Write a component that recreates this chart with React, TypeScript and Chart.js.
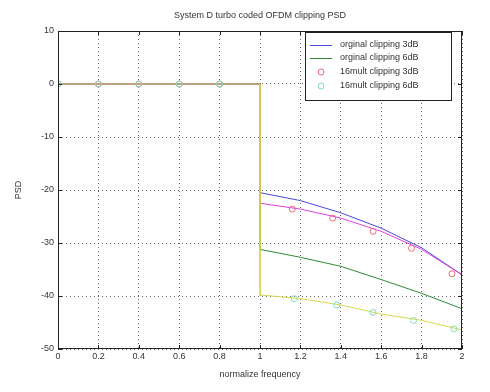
import React, { useEffect, useRef } from "react";
import { Chart, registerables } from "chart.js";
Chart.register(...registerables);

const FREQ = [0, 0.2, 0.4, 0.6, 0.8, 1, 1, 1.2, 1.4, 1.6, 1.8, 2];
const ORIG_3DB = [0, 0, 0, 0, 0, 0, -20.5, -22, -24.3, -27.2, -30.9, -36];
const ORIG_6DB = [0, 0, 0, 0, 0, 0, -31.2, -32.7, -34.4, -36.9, -39.5, -42.4];
const MULT_3DB = [0, 0, 0, 0, 0, 0, -22.5, -23.6, -25.3, -27.8, -31.2, -36];
const MULT_6DB = [0, 0, 0, 0, 0, 0, -39.8, -40.5, -41.7, -43.4, -44.6, -46.4];
const MK3_X = [0, 0.2, 0.4, 0.6, 0.8, 1.16, 1.36, 1.56, 1.75, 1.95];
const MK3_Y = [0, 0, 0, 0, 0, -23.6, -25.3, -27.8, -31, -35.8];
const MK6_X = [0, 0.2, 0.4, 0.6, 0.8, 1.17, 1.38, 1.56, 1.76, 1.96];
const MK6_Y = [0, 0, 0, 0, 0, -40.5, -41.7, -43.1, -44.6, -46.2];
const LEGEND = ["orginal clipping 3dB", "orginal clipping 6dB", "16mult clipping 3dB", "16mult clipping 6dB"];
const TITLE = "System D turbo coded OFDM clipping PSD";
const XLABEL = "normalize frequency";
const YLABEL = "PSD";

const C_BLUE = "#4a4ad8";
const C_GREEN = "#2f8a35";
const C_MAG = "#e040e0";
const C_RED = "#f06878";
const C_YEL = "#d6d84a";
const C_CYAN = "#7fdcc0";

const pts = (xs: number[], ys: number[]) => xs.map((x, i) => ({ x, y: ys[i] }));
const FONT = "'Liberation Sans', Arial, sans-serif";

export default function App() {
  const ref = useRef<HTMLCanvasElement>(null);
  useEffect(() => {
    const extras = {
      id: "extras",
      afterDraw(chart: any) {
        const ctx = chart.ctx;
        const a = chart.chartArea;
        const xs = chart.scales.x;
        const ys = chart.scales.y;
        ctx.save();
        ctx.strokeStyle = "#222";
        ctx.lineWidth = 1;
        ctx.strokeRect(a.left + 0.5, a.top + 0.5, a.right - a.left - 1, a.bottom - a.top - 1);
        for (let v = 0; v <= 2.0001; v += 0.2) {
          const px = Math.round(xs.getPixelForValue(v)) + 0.5;
          ctx.beginPath();
          ctx.moveTo(px, a.bottom); ctx.lineTo(px, a.bottom - 4);
          ctx.moveTo(px, a.top); ctx.lineTo(px, a.top + 4);
          ctx.stroke();
        }
        for (let v = -50; v <= 10; v += 10) {
          const py = Math.round(ys.getPixelForValue(v)) + 0.5;
          ctx.beginPath();
          ctx.moveTo(a.left, py); ctx.lineTo(a.left + 4, py);
          ctx.moveTo(a.right, py); ctx.lineTo(a.right - 4, py);
          ctx.stroke();
        }
        ctx.fillStyle = "#333";
        ctx.font = `9px ${FONT}`;
        ctx.textAlign = "center";
        ctx.textBaseline = "middle";
        ctx.fillText(TITLE, (a.left + a.right) / 2, 16);
        ctx.fillText(XLABEL, (a.left + a.right) / 2, 375);
        ctx.save();
        ctx.translate(19, (a.top + a.bottom) / 2);
        ctx.rotate(-Math.PI / 2);
        ctx.fillText(YLABEL, 0, 0);
        ctx.restore();
        const lx = 305, ly = 32, lw = 146, lh = 68;
        ctx.fillStyle = "#fff";
        ctx.fillRect(lx, ly, lw, lh);
        ctx.strokeStyle = "#222";
        ctx.strokeRect(lx + 0.5, ly + 0.5, lw, lh);
        const rows = [45, 58, 72, 86];
        ctx.textAlign = "left";
        LEGEND.forEach((t, i) => {
          const y = rows[i];
          if (i < 2) {
            ctx.strokeStyle = i === 0 ? C_BLUE : C_GREEN;
            ctx.beginPath();
            ctx.moveTo(310, y + 0.5); ctx.lineTo(332, y + 0.5);
            ctx.stroke();
          } else {
            ctx.strokeStyle = i === 2 ? C_RED : C_CYAN;
            ctx.beginPath();
            ctx.arc(321, y, 3, 0, Math.PI * 2);
            ctx.stroke();
          }
          ctx.fillStyle = "#333";
          ctx.fillText(t, 340, y);
        });
        ctx.restore();
      },
    };
    const chart = new Chart(ref.current!, {
      type: "line",
      data: {
        datasets: [
          { order: 6, data: pts(FREQ, ORIG_3DB), borderColor: C_BLUE, borderWidth: 1, pointRadius: 0, fill: false },
          { order: 5, data: pts(FREQ, ORIG_6DB), borderColor: C_GREEN, borderWidth: 1, pointRadius: 0, fill: false },
          { order: 4, data: pts(FREQ, MULT_3DB), borderColor: C_MAG, borderWidth: 1, pointRadius: 0, fill: false },
          { order: 3, data: pts(MK3_X, MK3_Y), showLine: false, pointStyle: "circle", pointRadius: 3, borderColor: C_RED, backgroundColor: "transparent", borderWidth: 1 },
          { order: 2, data: pts(FREQ, MULT_6DB), borderColor: C_YEL, borderWidth: 1, pointRadius: 0, fill: false },
          { order: 1, data: pts(MK6_X, MK6_Y), showLine: false, pointStyle: "circle", pointRadius: 3, borderColor: C_CYAN, backgroundColor: "transparent", borderWidth: 1 },
        ] as any,
      },
      options: {
        animation: false,
        responsive: false,
        layout: { padding: { top: 31, right: 28, left: 0, bottom: 0 } },
        plugins: { legend: { display: false }, tooltip: { enabled: false } },
        scales: {
          x: {
            type: "linear",
            min: 0,
            max: 2,
            afterFit: (s: any) => { s.height = 43; },
            ticks: {
              stepSize: 0.2,
              color: "#333",
              font: { size: 9, family: FONT },
              padding: 2,
              maxRotation: 0,
              callback: (v: any) => String(Math.round(Number(v) * 10) / 10),
            },
            grid: { color: "#444", lineWidth: 0.8, tickLength: 0, drawTicks: false },
            border: { display: false, dash: [1, 3] } as any,
          },
          y: {
            type: "linear",
            min: -50,
            max: 10,
            afterFit: (s: any) => { s.width = 58; },
            ticks: { stepSize: 10, color: "#333", font: { size: 9, family: FONT }, padding: 4 },
            grid: { color: "#444", lineWidth: 0.8, drawTicks: false },
            border: { display: false, dash: [1, 3] } as any,
          },
        },
      },
      plugins: [extras],
    });
    return () => chart.destroy();
  }, []);
  return (
    <div style={{ position: "absolute", left: 0, top: 0, width: 490, height: 392, background: "#fff" }}>
      <canvas ref={ref} width={490} height={392} />
    </div>
  );
}
